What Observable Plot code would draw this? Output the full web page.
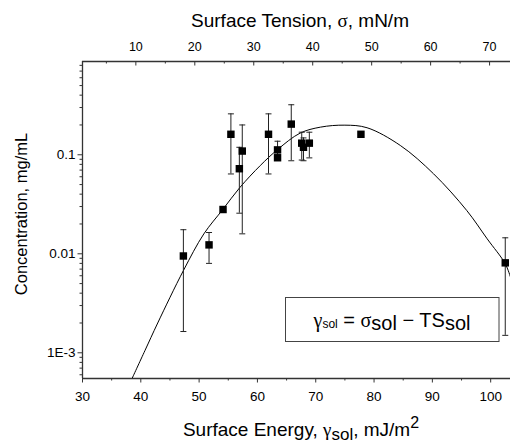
<!DOCTYPE html>
<html><head><meta charset="utf-8">
<script src="https://cdn.jsdelivr.net/npm/d3@7"></script>
<script src="https://cdn.jsdelivr.net/npm/@observablehq/plot@0.6"></script>
<style>
body{margin:0;background:#fff;}
#wrap{width:510px;height:443px;}
</style></head><body><div id="wrap"></div>
<script>
// Measured data points (surface energy γsol, concentration, error bar low/high)
const gammaSol      = [47.3,   51.7,   54.1,  55.45, 56.9,   57.4,  61.9,  63.45, 63.45,  65.8,  67.6,   67.9,  68.9,  77.75, 102.5];
const concentration = [0.0095, 0.0123, 0.028, 0.161, 0.0723, 0.109, 0.161, 0.112, 0.0933, 0.204, 0.131,  0.119, 0.131, 0.161, 0.0081];
const errLow        = [0.00164,0.0080, null,  0.064, 0.0257, 0.0159,0.064, 0.088, null,   0.087, 0.0885, 0.087, 0.093, null,  0.0015];
const errHigh       = [0.0175, 0.0164, null,  0.259, 0.119,  0.20,  0.259, 0.137, null,   0.32,  0.169,  0.148, 0.169, null,  0.0145];

// Fitted curve
const curveX = [38.5,   40.7,   42.9,   47.3,    50.8,    54.1,   57.0,   60.5,  63.5,   67.3,   70.8,   75.0,   78.8,   84.5,   90.2,   95.9,    99.4,    102.5,   103.4];
const curveY = [0.00055,0.00105,0.00200,0.00676, 0.01585, 0.0282, 0.0468, 0.078, 0.1135, 0.1652, 0.1901, 0.1991, 0.1875, 0.1242, 0.0643, 0.02735, 0.01416, 0.00793, 0.00581];

// Axes
const xDomain = [30, 103.4];
const yDomain = [0.00055, 0.875];
const xMajor = [30, 40, 50, 60, 70, 80, 90, 100];
const xMinor = [35, 45, 55, 65, 75, 85, 95];
const yMajor = [0.001, 0.01, 0.1];
const yMajorLabels = ["1E-3", "0.01", "0.1"];
const yMinor = [0.0006,0.0007,0.0008,0.0009,0.002,0.003,0.004,0.005,0.006,0.007,0.008,0.009,
                0.02,0.03,0.04,0.05,0.06,0.07,0.08,0.09,0.2,0.3,0.4,0.5,0.6,0.7,0.8];
const topDomain = [0.95, 73.55];   // surface tension σ at the left/right edges
const topMajor = [10, 20, 30, 40, 50, 60, 70];
const topMinor = [5, 15, 25, 35, 45, 55, 65];

const sigmaToGamma = s => xDomain[0] + (s - topDomain[0]) * (xDomain[1] - xDomain[0]) / (topDomain[1] - topDomain[0]);

const points = gammaSol.map((g, i) => ({x: g, y: concentration[i], lo: errLow[i], hi: errHigh[i]}));
const errs = points.filter(d => d.lo != null);
const curve = curveX.map((x, i) => ({x, y: curveY[i]}));

const W = 510, H = 443, mL = 82, mR = 0, mT = 61, mB = 65;
const plotH = H - mT - mB;
const axisColor = "#333";
const cap = {draw(ctx, size) { const r = Math.sqrt(size / Math.PI); ctx.moveTo(-r, 0); ctx.lineTo(r, 0); }};

const chart = Plot.plot({
  width: W, height: H,
  marginLeft: mL, marginRight: mR, marginTop: mT, marginBottom: mB,
  style: {fontFamily: "'Liberation Sans', Arial, sans-serif", color: "#000", background: "#fff", overflow: "visible"},
  x: {domain: xDomain, label: null},
  y: {type: "log", domain: yDomain, label: null},
  marks: [
    // frame lines (left, bottom, top)
    Plot.ruleX([xDomain[0]], {stroke: axisColor, strokeWidth: 1.3}),
    Plot.ruleY(yDomain, {stroke: axisColor, strokeWidth: 1.3}),
    // bottom axis
    Plot.axisX(xMajor, {anchor: "bottom", tickSize: 4.5, tickPadding: 8, fontSize: 13.5, label: null, stroke: axisColor}),
    Plot.axisX(xMinor, {anchor: "bottom", tickSize: 2.5, tickFormat: () => "", label: null, stroke: axisColor}),
    // left axis
    Plot.axisY(yMajor, {anchor: "left", tickSize: 4.5, tickPadding: 2.5, fontSize: 13.5, label: null, stroke: axisColor,
      tickFormat: d => yMajorLabels[yMajor.indexOf(d)]}),
    Plot.axisY(yMinor, {anchor: "left", tickSize: 2.5, tickFormat: () => "", label: null, stroke: axisColor}),
    // top axis (surface tension), ticks pointing inward
    Plot.tickX(topMajor.map(sigmaToGamma), {insetBottom: plotH - 4.5, stroke: axisColor}),
    Plot.tickX(topMinor.map(sigmaToGamma), {insetBottom: plotH - 2.5, stroke: axisColor}),
    Plot.text(topMajor, {x: sigmaToGamma, text: d => String(d), frameAnchor: "top", lineAnchor: "bottom", dy: -11, fontSize: 12.5}),
    // fit curve
    Plot.line(curve, {x: "x", y: "y", curve: "catmull-rom", stroke: "#000", strokeWidth: 1, clip: true}),
    // error bars
    Plot.ruleX(errs, {x: "x", y1: "lo", y2: "hi", stroke: "#222", strokeWidth: 1}),
    Plot.dot(errs, {x: "x", y: "lo", symbol: cap, r: 3, stroke: "#222", fill: "none", strokeWidth: 1}),
    Plot.dot(errs, {x: "x", y: "hi", symbol: cap, r: 3, stroke: "#222", fill: "none", strokeWidth: 1}),
    // data points
    Plot.dot(points, {x: "x", y: "y", symbol: "square", r: 4.2, fill: "#000", stroke: "none"})
  ]
});

document.getElementById("wrap").append(chart);

// Axis titles and equation box (text annotations)
const svg = d3.select(chart);
const sans = "'Liberation Sans', Arial, sans-serif";
const serif = "'Liberation Serif', 'DejaVu Serif', serif";

const t1 = svg.append("text").attr("x", 300).attr("y", 27).attr("text-anchor", "middle")
  .attr("font-family", sans).attr("font-size", 19).attr("fill", "#000");
t1.append("tspan").text("Surface Tension, ");
t1.append("tspan").attr("font-family", serif).text("σ");
t1.append("tspan").text(", mN/m");

const t2 = svg.append("text").attr("x", 301).attr("y", 436).attr("text-anchor", "middle")
  .attr("font-family", sans).attr("font-size", 19).attr("fill", "#000");
t2.append("tspan").text("Surface Energy, ");
t2.append("tspan").attr("font-family", serif).text("γ");
t2.append("tspan").attr("dy", 4).attr("font-size", 17).text("sol");
t2.append("tspan").attr("dy", -4).text(", mJ/m");
t2.append("tspan").attr("dy", -8).attr("font-size", 16).text("2");

svg.append("text").attr("transform", "translate(26.5,214) rotate(-90)").attr("text-anchor", "middle")
  .attr("font-family", sans).attr("font-size", 16.5).attr("fill", "#000").text("Concentration, mg/mL");

svg.append("rect").attr("x", 285.5).attr("y", 297.5).attr("width", 213.5).attr("height", 44)
  .attr("fill", "#fff").attr("stroke", "#444").attr("stroke-width", 1);
const eq = svg.append("text").attr("x", 392).attr("y", 327).attr("text-anchor", "middle")
  .attr("font-family", sans).attr("font-size", 20).attr("fill", "#000");
eq.append("tspan").attr("font-family", serif).text("γ");
eq.append("tspan").attr("font-size", 12).attr("dy", 1).text("sol");
eq.append("tspan").attr("dy", -1).text(" = ");
eq.append("tspan").attr("font-family", serif).text("σ");
eq.append("tspan").attr("dy", 3).text("sol");
eq.append("tspan").attr("dy", -3).text(" − TS");
eq.append("tspan").attr("dy", 3).text("sol");
</script>
</body></html>
